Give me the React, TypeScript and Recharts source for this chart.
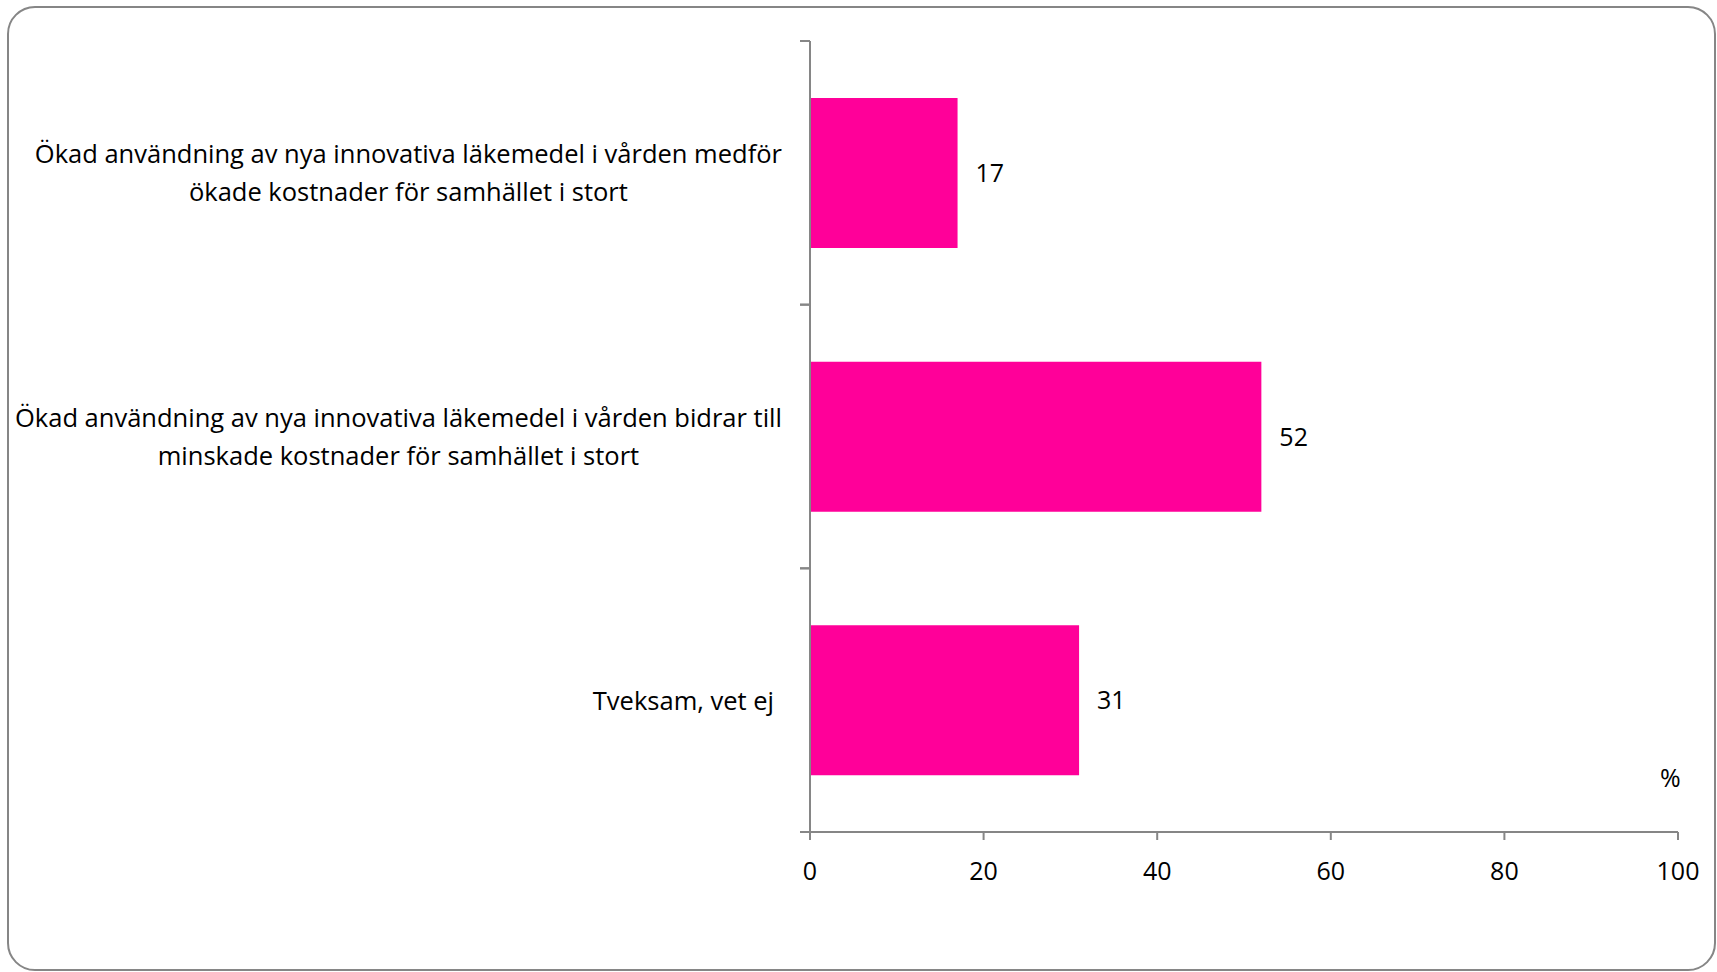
import { BarChart, Bar, XAxis, YAxis, LabelList } from 'recharts'

const categories = [
  'Ökad användning av nya innovativa läkemedel i vården medför\nökade kostnader för samhället i stort',
  'Ökad användning av nya innovativa läkemedel i vården bidrar till\nminskade kostnader för samhället i stort',
  'Tveksam, vet ej',
]
const values = [17, 52, 31]
const xTicks = [0, 20, 40, 60, 80, 100]
const unitLabel = '%'

const data = categories.map((name, i) => ({ name, value: values[i] }))

const W = 1717
const H = 972
const MARGIN = { top: 41, right: 39, bottom: 80, left: 0 }
const Y_AXIS_W = 810
const X_AXIS_H = 60
const PLOT_H = H - MARGIN.top - MARGIN.bottom - X_AXIS_H
const BAND = PLOT_H / categories.length

const GREY = '#868686'
const PINK = '#FF0099'
const FONT = '"Open Sans", sans-serif'
const LABEL_SIZE = 25.5
const NUM_SIZE = 25

let canvas: HTMLCanvasElement | null = null
function textWidth(s: string) {
  if (!canvas) canvas = document.createElement('canvas')
  const ctx = canvas.getContext('2d')!
  ctx.font = `${LABEL_SIZE}px "Open Sans"`
  return ctx.measureText(s).width
}

function CategoryTick(props: any) {
  const { x, y, payload } = props
  const lines = String(payload.value).split('\n')
  const right = x - 28
  let text
  if (lines.length === 1) {
    text = (
      <text x={right - 8} y={y + 10} textAnchor="end" fontFamily={FONT} fontSize={LABEL_SIZE} fill="#000">
        {lines[0]}
      </text>
    )
  } else {
    const block = Math.max(...lines.map(textWidth))
    const cx = right - block / 2
    text = (
      <text textAnchor="middle" fontFamily={FONT} fontSize={LABEL_SIZE} fill="#000">
        {lines.map((l, i) => (
          <tspan key={i} x={cx} y={y - 10 + i * 38}>
            {l}
          </tspan>
        ))}
      </text>
    )
  }
  return (
    <g>
      <line x1={x - 10} x2={x} y1={y - BAND / 2} y2={y - BAND / 2} stroke={GREY} strokeWidth={2} />
      <line x1={x - 10} x2={x} y1={y + BAND / 2} y2={y + BAND / 2} stroke={GREY} strokeWidth={2} />
      {text}
    </g>
  )
}

export default function App() {
  return (
    <div style={{ position: 'absolute', left: 0, top: 0, width: W, height: H, background: '#fff' }}>
      <BarChart width={W} height={H} data={data} layout="vertical" margin={MARGIN}>
        <XAxis
          type="number"
          domain={[0, 100]}
          ticks={xTicks}
          height={X_AXIS_H}
          axisLine={{ stroke: GREY, strokeWidth: 2 }}
          tickLine={{ stroke: GREY, strokeWidth: 2 }}
          tickSize={8}
          tickMargin={22}
          tick={{ fill: '#000', fontSize: NUM_SIZE, fontFamily: FONT }}
        />
        <YAxis
          type="category"
          dataKey="name"
          width={Y_AXIS_W}
          axisLine={{ stroke: GREY, strokeWidth: 2 }}
          tickLine={false}
          tickSize={0}
          tickMargin={0}
          interval={0}
          tick={(p: any) => <CategoryTick {...p} />}
        />
        <Bar dataKey="value" fill={PINK} barSize={150} isAnimationActive={false}>
          <LabelList dataKey="value" position="right" offset={18} fill="#000" fontSize={NUM_SIZE} fontFamily={FONT} />
        </Bar>
      </BarChart>
      <div
        style={{
          position: 'absolute',
          left: 1660,
          top: 760,
          fontFamily: FONT,
          fontSize: NUM_SIZE,
          color: '#000',
        }}
      >
        {unitLabel}
      </div>
      <div
        style={{
          position: 'absolute',
          left: 7,
          top: 6,
          width: 1709,
          height: 965,
          boxSizing: 'border-box',
          border: `2px solid ${GREY}`,
          borderRadius: 28,
          pointerEvents: 'none',
        }}
      />
    </div>
  )
}
